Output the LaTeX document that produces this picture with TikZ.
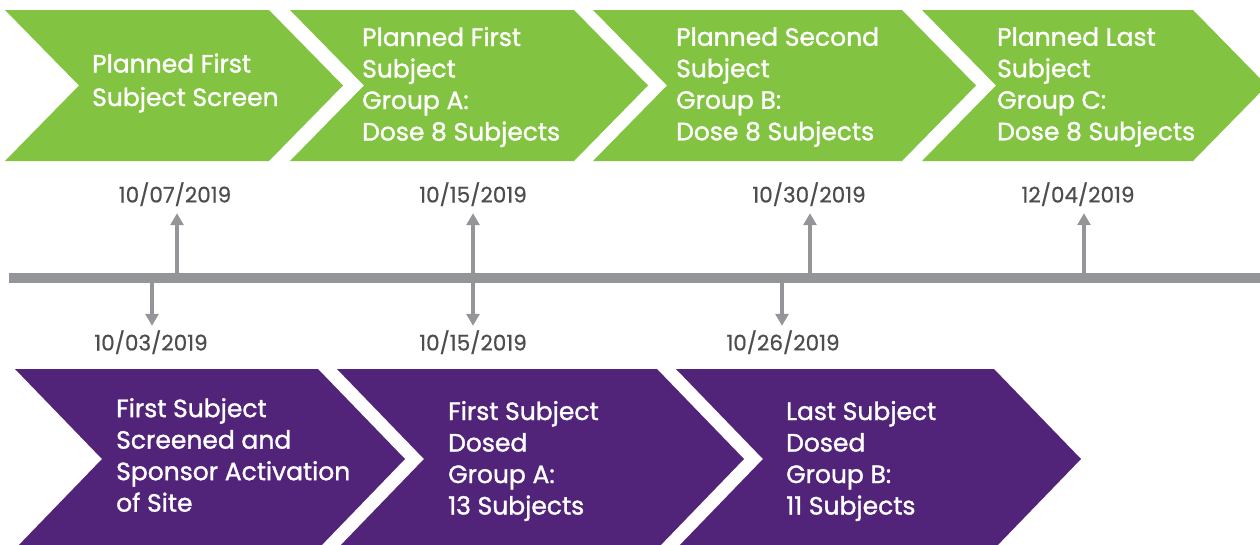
\documentclass[tikz,border=0pt]{standalone}
\usepackage{fontspec}
\setmainfont{Poppins}
\newfontfamily\stagefont{Poppins}[FakeBold=1.3]
\newfontfamily\datefont{Poppins}[FakeBold=0.6]
\usetikzlibrary{arrows.meta}
\definecolor{leaf}{HTML}{82C341}
\definecolor{plum}{HTML}{51247A}
\definecolor{rail}{HTML}{939598}
\definecolor{datecol}{HTML}{4D4D4F}
% chevron: colour, left x, right x, top y, bottom y, point depth
\newcommand{\stagechevron}[6]{%
  \fill[#1] (#2,#4) -- (#3,#4) -- (#3+#6,{(#4+#5)/2}) -- (#3,#5) -- (#2,#5)
    -- (#2+#6,{(#4+#5)/2}) -- cycle;}
\begin{document}
\begin{tikzpicture}[x=1pt,y=-1pt,
  stage/.style={text=white,font=\stagefont\fontsize{25}{31.5}\selectfont,align=left,anchor=west,inner sep=0pt},
  datelabel/.style={text=datecol,font=\datefont\fontsize{21.5}{24}\selectfont,inner sep=0pt,text height=15pt,text depth=0pt},
  tick/.style={draw=rail,line width=3.2pt,-{Triangle[width=13pt,length=12pt]}}
]
\useasboundingbox (0,0) rectangle (1260,544);
\begin{scope}
\clip (0,0) rectangle (1260,544);
% planned milestones
\stagechevron{leaf}{5}{269}{10}{161}{74}
\stagechevron{leaf}{290}{574}{10}{161}{74}
\stagechevron{leaf}{593}{902}{10}{161}{74}
\stagechevron{leaf}{922}{1193}{10}{161}{74}
% actual milestones
\stagechevron{plum}{15}{318}{369}{549}{87}
\stagechevron{plum}{337}{657}{369}{549}{87}
\stagechevron{plum}{676}{994}{369}{549}{87}
\end{scope}

\node[stage] (g1) at (92,83) {Planned First\\[2pt]Subject Screen};
\node[stage] (g2) at (362,87) {Planned First\\Subject\\Group A:\\Dose 8 Subjects};
\node[stage] (g3) at (676,87) {Planned Second\\Subject\\Group B:\\Dose 8 Subjects};
\node[stage] (g4) at (997,87) {Planned Last\\Subject\\Group C:\\Dose 8 Subjects};

\node[stage] (p1) at (116,455) {First Subject\\Screened and\\Sponsor Activation\\of Site};
\node[stage] (p2) at (448,461) {First Subject\\Dosed\\Group A:\\13 Subjects};
\node[stage] (p3) at (786,461) {Last Subject\\Dosed\\Group B:\\11 Subjects};

% timeline rail
\coordinate (railL) at (9,278);
\coordinate (railR) at (1260,278);
\draw[rail,line width=10pt] (railL) -- (railR);

% planned dates above the rail
\node[datelabel] (t1) at (175,195) {10/07/2019};
\node[datelabel] (t2) at (473,195) {10/15/2019};
\node[datelabel] (t3) at (809,195) {10/30/2019};
\node[datelabel] (t4) at (1078,195) {12/04/2019};
\coordinate (u1) at (177,273);
\coordinate (u2) at (473,273);
\coordinate (u3) at (810,273);
\coordinate (u4) at (1084,273);
\foreach \i in {1,...,4} \draw[tick,shorten >=10.5pt] (u\i) -- (u\i |- t\i.south);

% actual dates below the rail
\node[datelabel] (b1) at (151,343) {10/03/2019};
\node[datelabel] (b2) at (473,343) {10/15/2019};
\node[datelabel] (b3) at (783,343) {10/26/2019};
\coordinate (l1) at (152,283);
\coordinate (l2) at (473,283);
\coordinate (l3) at (782,283);
\foreach \i in {1,...,3} \draw[tick,shorten >=9.5pt] (l\i) -- (l\i |- b\i.north);
\end{tikzpicture}
\end{document}
